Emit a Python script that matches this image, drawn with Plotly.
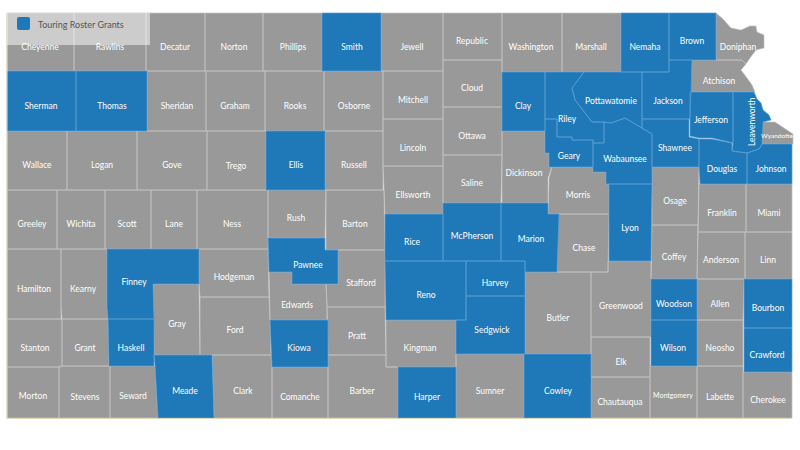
import plotly.graph_objects as go

county_names = [
    "Cheyenne", "Rawlins", "Decatur", "Norton", "Phillips", "Smith", "Jewell", "Republic",
    "Washington", "Marshall", "Nemaha", "Brown", "Doniphan",
    "Sherman", "Thomas", "Sheridan", "Graham", "Rooks", "Osborne", "Mitchell", "Cloud", "Clay",
    "Riley", "Pottawatomie", "Jackson", "Atchison", "Jefferson", "Leavenworth", "Wyandotte",
    "Wallace", "Logan", "Gove", "Trego", "Ellis", "Russell", "Lincoln", "Ottawa", "Dickinson",
    "Geary", "Wabaunsee", "Shawnee", "Douglas", "Johnson",
    "Greeley", "Wichita", "Scott", "Lane", "Ness", "Rush", "Barton", "Ellsworth", "Saline",
    "Morris", "Lyon", "Osage", "Franklin", "Miami",
    "Hamilton", "Kearny", "Finney", "Hodgeman", "Pawnee", "Stafford", "Rice", "McPherson",
    "Marion", "Chase", "Coffey", "Anderson", "Linn", "Harvey", "Reno", "Butler", "Greenwood",
    "Woodson", "Allen", "Bourbon",
    "Stanton", "Grant", "Gray", "Ford", "Edwards", "Haskell", "Pratt", "Kingman", "Sedgwick",
    "Elk", "Wilson", "Neosho", "Crawford",
    "Morton", "Stevens", "Seward", "Meade", "Clark", "Kiowa", "Comanche", "Barber", "Harper",
    "Sumner", "Cowley", "Chautauqua", "Montgomery", "Labette", "Cherokee",
]

grant_counties = [
    "Smith", "Nemaha", "Brown", "Sherman", "Thomas", "Clay", "Riley", "Pottawatomie", "Jackson",
    "Jefferson", "Leavenworth", "Ellis", "Geary", "Wabaunsee", "Shawnee", "Douglas", "Johnson",
    "Lyon", "Finney", "Pawnee", "Rice", "McPherson", "Marion", "Harvey", "Reno", "Woodson",
    "Bourbon", "Haskell", "Sedgwick", "Wilson", "Crawford", "Meade", "Kiowa", "Harper", "Cowley",
]

# county outlines, same order as county_names
county_x = [
    [7, 74, 74, 7], [74, 146, 146, 74], [146, 205, 205, 146], [205, 263, 263, 205],
    [263, 322, 322, 263], [322, 381, 381, 322], [381, 443, 443, 381], [443, 502, 502, 443],
    [502, 562, 562, 502], [562, 621, 621, 562], [621, 669, 669, 621], [669, 716, 716, 669],
    [716, 723, 731, 741, 750, 756, 757, 764, 764, 756, 750, 746, 742, 716],
    [7, 76, 76, 7], [76, 147, 147, 76], [147, 206, 206, 147], [206, 265, 265, 206],
    [265, 324, 324, 265], [324, 383, 383, 324], [383, 443, 443, 383], [443, 502, 502, 443],
    [502, 545, 545, 502],
    [545, 584, 572, 575, 592, 604, 604, 593, 593, 572, 572, 557, 557, 545],
    [584, 642, 642, 625, 611, 604, 592, 575, 572],
    [642, 669, 669, 692, 691, 690, 642],
    [692, 742, 746, 741, 747, 752, 755, 690],
    [690, 733, 733, 712, 699, 690],
    [733, 754, 757, 761, 763, 769, 771, 763, 762, 759, 747, 732, 733],
    [762, 775, 787, 793, 793, 762],
    [7, 67, 67, 7], [67, 137, 137, 67], [137, 207, 207, 137], [207, 266, 266, 207],
    [266, 325, 325, 266], [325, 383, 383, 325], [383, 443, 443, 383], [443, 502, 502, 443],
    [502, 545, 545, 549, 549, 552, 548, 548, 502],
    [545, 557, 557, 572, 572, 593, 593, 549, 549, 545],
    [604, 611, 625, 652, 652, 606, 606, 593, 593, 604],
    [642, 689, 689, 699, 699, 652, 652, 642],
    [699, 712, 732, 732, 747, 747, 700, 699],
    [762, 792, 792, 747, 747, 759],
    [7, 57, 57, 7], [57, 105, 105, 57], [105, 151, 151, 105], [151, 197, 197, 151],
    [197, 268, 268, 197], [268, 326, 325, 268], [326, 384, 385, 326],
    [383, 443, 443, 385], [443, 502, 501, 443],
    [552, 593, 593, 606, 606, 609, 609, 548, 549],
    [609, 652, 651, 609], [652, 699, 698, 652], [699, 746, 746, 698], [746, 792, 792, 746],
    [7, 61, 61, 7], [61, 107, 107, 108, 62, 61],
    [107, 199, 199, 153, 154, 108, 107],
    [199, 268, 269, 200, 199],
    [268, 325, 325, 338, 338, 292, 292, 269],
    [338, 385, 385, 327, 326, 338],
    [385, 443, 443, 385], [443, 501, 501, 443],
    [501, 548, 548, 559, 557, 525, 525, 501],
    [558, 609, 608, 557],
    [652, 698, 697, 651], [698, 745, 745, 697], [745, 792, 792, 745],
    [466, 525, 525, 466], [385, 466, 466, 386], [525, 591, 591, 525],
    [608, 651, 651, 591, 591, 608],
    [651, 697, 697, 651], [697, 744, 743, 697], [744, 792, 792, 744],
    [7, 62, 62, 7], [62, 108, 109, 62], [153, 199, 200, 154],
    [200, 269, 270, 271, 200],
    [269, 292, 292, 326, 327, 327, 270],
    [108, 154, 154, 109], [327, 385, 386, 328], [386, 456, 456, 386],
    [466, 525, 525, 456, 456, 466],
    [591, 650, 650, 591], [651, 697, 697, 651], [697, 743, 743, 697], [744, 792, 792, 744],
    [7, 59, 59, 7], [59, 110, 110, 59], [110, 155, 158, 110],
    [154, 212, 214, 158, 155],
    [212, 271, 272, 272, 214],
    [270, 328, 328, 272],
    [272, 328, 328, 272],
    [328, 386, 386, 398, 398, 328],
    [398, 456, 456, 398], [456, 524, 524, 456], [524, 591, 591, 524],
    [591, 650, 650, 591], [650, 697, 697, 650], [697, 743, 743, 697], [743, 792, 792, 743],
]

county_y = [
    [13, 13, 71, 71], [13, 13, 71, 71], [13, 13, 71, 71], [13, 13, 71, 71],
    [13, 13, 71, 71], [13, 13, 71, 71], [13, 13, 71, 71], [13, 13, 60, 60],
    [13, 13, 72, 72], [13, 13, 72, 72], [13, 13, 72, 72], [13, 13, 60, 60],
    [13, 19, 28, 30, 26, 26, 32, 35, 48, 50, 58, 64, 60, 60],
    [71, 71, 131, 131], [71, 71, 131, 131], [71, 71, 131, 131], [71, 71, 131, 131],
    [71, 71, 131, 131], [71, 71, 131, 131], [71, 71, 119, 119], [60, 60, 107, 107],
    [72, 72, 131, 131],
    [72, 72, 88, 100, 122, 122, 143, 143, 140, 140, 137, 137, 119, 119],
    [72, 72, 128, 118, 123, 122, 122, 100, 88],
    [72, 72, 60, 60, 92, 119, 119],
    [60, 60, 64, 70, 78, 85, 92, 92],
    [92, 92, 143, 138, 138, 136],
    [92, 92, 99, 103, 110, 115, 120, 122, 144, 149, 153, 151, 143],
    [122, 122, 130, 134, 144, 144],
    [131, 131, 190, 190], [131, 131, 190, 190], [131, 131, 190, 190], [131, 131, 190, 190],
    [131, 131, 190, 190], [131, 131, 190, 190], [119, 119, 166, 166], [107, 107, 155, 155],
    [131, 131, 153, 153, 167, 167, 178, 203, 203],
    [119, 119, 137, 137, 140, 140, 167, 167, 153, 153],
    [122, 123, 118, 134, 184, 184, 172, 172, 143, 143],
    [119, 119, 137, 139, 167, 167, 134, 128],
    [139, 139, 143, 151, 153, 184, 184, 167],
    [144, 144, 184, 184, 153, 149],
    [190, 190, 249, 249], [190, 190, 249, 249], [190, 190, 249, 249], [190, 190, 249, 249],
    [190, 190, 249, 249], [190, 190, 238, 238], [190, 190, 250, 250],
    [166, 166, 214, 214], [155, 155, 203, 203],
    [167, 167, 172, 172, 184, 184, 214, 214, 178],
    [184, 184, 261, 261], [167, 167, 225, 225], [184, 184, 232, 232], [184, 184, 232, 232],
    [249, 249, 319, 319], [249, 249, 308, 319, 319, 308],
    [249, 249, 284, 284, 319, 319, 308],
    [249, 249, 297, 297, 284],
    [238, 238, 250, 250, 284, 284, 272, 272],
    [250, 250, 307, 307, 284, 284],
    [214, 214, 261, 261], [203, 203, 261, 261],
    [203, 203, 214, 214, 272, 272, 261, 261],
    [214, 214, 272, 272],
    [225, 225, 279, 279], [232, 232, 279, 279], [232, 232, 279, 279],
    [261, 261, 296, 296], [261, 261, 320, 320], [272, 272, 354, 354],
    [261, 261, 337, 337, 272, 272],
    [279, 279, 320, 320], [279, 279, 320, 320], [279, 279, 328, 328],
    [319, 319, 367, 367], [319, 319, 366, 366], [284, 284, 355, 355],
    [297, 297, 320, 355, 355],
    [272, 272, 284, 284, 307, 320, 320],
    [319, 319, 366, 366], [307, 307, 355, 355], [320, 320, 367, 367],
    [296, 296, 354, 354, 320, 320],
    [337, 337, 377, 377], [320, 320, 366, 366], [320, 320, 366, 366], [328, 328, 372, 372],
    [367, 367, 418, 418], [366, 366, 418, 418], [366, 366, 418, 418],
    [355, 355, 418, 418, 366],
    [355, 355, 367, 418, 418],
    [320, 320, 367, 367],
    [367, 367, 418, 418],
    [355, 355, 367, 367, 418, 418],
    [367, 367, 418, 418], [354, 354, 418, 418], [354, 354, 418, 418],
    [377, 377, 418, 418], [366, 366, 418, 418], [366, 366, 418, 418], [372, 372, 418, 418],
]

label_x = [
    40, 110, 175, 234, 293, 352, 412, 472, 531, 591, 645, 692, 738,
    41, 112, 177, 235, 295, 354, 413, 472, 523,
    567, 611, 668, 719, 711, 752, 777,
    37, 102, 172, 236, 296, 354, 413, 472, 524, 569, 625, 675, 722, 771,
    32, 81, 127, 174, 232, 296, 355, 413, 472, 578, 630, 675, 722, 769,
    34, 83, 134, 234, 308, 361, 412, 472, 531, 584, 674, 721, 768, 495, 426, 558, 621, 674, 720, 768,
    35, 85, 177, 235, 297, 131, 357, 420, 492, 621, 673, 720, 767,
    33, 85, 133, 185, 243, 299, 300, 362, 427, 490, 558, 620, 673, 720, 768,
]

label_y = [
    46, 46, 46, 46, 46, 46, 46, 40, 46, 46, 46, 40, 46,
    105, 105, 105, 105, 105, 105, 99, 87, 105,
    118, 100, 100, 80, 119, 122, 135,
    164, 164, 164, 165, 164, 164, 147, 135, 172, 155, 158, 147, 168, 168,
    223, 223, 223, 223, 223, 217, 223, 194, 182, 194, 227, 200, 212, 212,
    288, 288, 281, 276, 264, 282, 241, 235, 238, 247, 256, 259, 259, 282, 294, 317, 305, 303, 303, 307,
    347, 347, 323, 329, 304, 347, 335, 347, 329, 361, 347, 347, 354,
    395, 396, 395, 390, 390, 347, 396, 390, 396, 390, 390, 401, 395, 396, 399,
]

# thin tan edge along the bottom and left of the state
edge_x = [7, 7, 792]
edge_y = [13, 418.5, 418.5]

legend_name = "Touring Roster Grants"
blue = "#1f78b8"
gray = "#999999"
label_font = "Lato"


def merged_outlines(selected):
    xs, ys = [], []
    for name, cx, cy in zip(county_names, county_x, county_y):
        if selected(name):
            xs += cx + [cx[0], None]
            ys += cy + [cy[0], None]
    return xs, ys


fig = go.Figure()

gray_x, gray_y = merged_outlines(lambda n: n not in grant_counties)
fig.add_trace(go.Scatter(x=gray_x, y=gray_y, mode="lines", fill="toself", fillcolor=gray,
                         line=dict(color="#c4c3c1", width=0.7), showlegend=False, hoverinfo="skip"))

blue_x, blue_y = merged_outlines(lambda n: n in grant_counties)
fig.add_trace(go.Scatter(x=blue_x, y=blue_y, mode="lines", fill="toself", fillcolor=blue,
                         line=dict(color="#5c9fd2", width=0.7), showlegend=False, hoverinfo="skip"))

fig.add_trace(go.Scatter(x=edge_x, y=edge_y, mode="lines", line=dict(color="#dcdabb", width=1),
                         showlegend=False, hoverinfo="skip"))

# labels, except Leavenworth which is rotated and goes in as an annotation
text_x, text_y, text_names, text_sizes = [], [], [], []
for name, lx, ly in zip(county_names, label_x, label_y):
    if name == "Leavenworth":
        fig.add_annotation(x=lx, y=ly, text=name, textangle=-90, showarrow=False,
                           font=dict(family=label_font, size=8.5, color="white"))
        continue
    text_x.append(lx)
    text_y.append(ly + 1.5)
    text_names.append(name)
    text_sizes.append({"Wyandotte": 6.5, "Montgomery": 7}.get(name, 8.5))

fig.add_trace(go.Scatter(x=text_x, y=text_y, text=text_names, mode="text",
                         textfont=dict(family=label_font, size=text_sizes, color="white"),
                         showlegend=False, hoverinfo="skip"))

# legend box sits over the map, Cheyenne and Rawlins show through it
fig.add_shape(type="rect", x0=7, x1=150, y0=13, y1=45, xref="x", yref="y", layer="above",
              fillcolor="rgba(255,255,255,0.5)", line_width=0)
fig.add_shape(type="path", xref="x", yref="y", layer="above", fillcolor=blue, line_width=0,
              path="M 19 17 L 28 17 Q 30 17 30 19 L 30 28 Q 30 30 28 30 L 19 30 Q 17 30 17 28 L 17 19 Q 17 17 19 17 Z")
fig.add_annotation(x=36, y=24, text=legend_name, xanchor="left", showarrow=False,
                   font=dict(family=label_font, size=9, color="#555555"))

fig.update_layout(
    width=800,
    height=450,
    margin=dict(l=0, r=0, t=0, b=0),
    paper_bgcolor="white",
    plot_bgcolor="white",
    xaxis=dict(range=[0, 800], visible=False, fixedrange=True),
    yaxis=dict(range=[450, 0], visible=False, fixedrange=True),
    showlegend=False,
)

fig.write_html("out.html", config=dict(displayModeBar=False),
               post_script="document.body.style.margin='0';")
